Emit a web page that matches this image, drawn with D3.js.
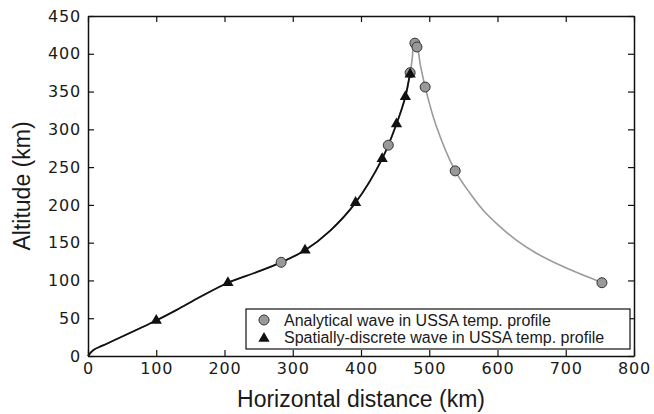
<!DOCTYPE html>
<html>
<head>
<meta charset="utf-8">
<script src="https://cdn.jsdelivr.net/npm/d3@7"></script>
<style>
    body { margin: 0; background: #fff; }
    svg { display: block; }
    .tick-label { font-family: "DejaVu Sans", sans-serif; font-size: 16px; letter-spacing: 0.8px; fill: #1a1a1a; }
    .axis-title { font-family: "Liberation Sans", Arial, sans-serif; font-size: 23px; fill: #1a1a1a; }
    .legend-text { font-family: "Liberation Sans", Arial, sans-serif; font-size: 16px; fill: #1a1a1a; }
</style>
</head>
<body>
<div id="chart"></div>
<script>
// Analytical wave markers (grey circles)
const analyticalX = [283, 440, 472, 479, 482, 494, 538, 753];
const analyticalY = [124, 279, 375, 414, 409, 356, 245, 97];

// Spatially-discrete wave markers (black triangles)
const discreteX = [100, 205, 318, 392, 431, 452, 465, 472];
const discreteY = [47, 97, 140, 203, 261, 307, 343, 373];

// Analytical ray path (grey line)
const analyticalPathX = [0, 8, 22, 100, 130, 164, 205, 247, 283, 318, 355, 392, 431, 452, 465, 472, 475, 478, 482, 487, 494, 510, 538, 560, 579, 604, 628, 657, 692, 726, 753];
const analyticalPathY = [0, 8, 14, 47, 61, 78, 97, 111, 124, 140, 166, 203, 261, 307, 343, 374, 393, 414, 410, 385, 356, 305, 245, 215, 193, 171, 153, 136, 120, 107, 97];

// Spatially-discrete ray path (black line)
const discretePathX = [0, 8, 22, 100, 130, 164, 205, 247, 283, 318, 355, 392, 431, 452, 465, 472, 474];
const discretePathY = [0, 8, 14, 47, 61, 78, 97, 111, 124, 140, 166, 203, 261, 307, 343, 374, 380];

const xTicks = [0, 100, 200, 300, 400, 500, 600, 700, 800];
const yTicks = [0, 50, 100, 150, 200, 250, 300, 350, 400, 450];

const legendLabels = [
    "Analytical wave in USSA temp. profile",
    "Spatially-discrete wave in USSA temp. profile"
];

const W = 654, H = 414;
const margin = { left: 88, top: 16, right: 20, bottom: 58 };
const width = W - margin.left - margin.right;
const height = H - margin.top - margin.bottom;

const svg = d3.select("#chart").append("svg")
    .attr("width", W)
    .attr("height", H);

const g = svg.append("g")
    .attr("transform", `translate(${margin.left},${margin.top})`);

const x = d3.scaleLinear().domain([0, 800]).range([0, width]);
const y = d3.scaleLinear().domain([0, 450]).range([height, 0]);

const zip = (xs, ys) => xs.map((v, i) => [v, ys[i]]);

// Lines
const line = d3.line()
    .x(d => x(d[0]))
    .y(d => y(d[1]))
    .curve(d3.curveCatmullRom.alpha(0.5));

g.append("path")
    .datum(zip(analyticalPathX, analyticalPathY))
    .attr("d", line)
    .attr("fill", "none")
    .attr("stroke", "#9a9a9a")
    .attr("stroke-width", 1.6);

g.append("path")
    .datum(zip(discretePathX, discretePathY))
    .attr("d", line)
    .attr("fill", "none")
    .attr("stroke", "#111")
    .attr("stroke-width", 1.8);

// Markers
g.selectAll(".analytical")
    .data(zip(analyticalX, analyticalY))
    .join("circle")
    .attr("class", "analytical")
    .attr("cx", d => x(d[0]))
    .attr("cy", d => y(d[1]))
    .attr("r", 5)
    .attr("fill", "#999")
    .attr("stroke", "#333")
    .attr("stroke-width", 1);

const tri = d3.symbol().type(d3.symbolTriangle).size(55);

g.selectAll(".discrete")
    .data(zip(discreteX, discreteY))
    .join("path")
    .attr("class", "discrete")
    .attr("d", tri)
    .attr("transform", d => `translate(${x(d[0])},${y(d[1])})`)
    .attr("fill", "#111");

// Axes, ticks pointing inward on all four sides
g.append("g")
    .attr("transform", `translate(0,${height})`)
    .call(d3.axisBottom(x).tickValues(xTicks).tickSizeInner(-6).tickSizeOuter(0).tickPadding(7));

g.append("g")
    .call(d3.axisLeft(y).tickValues(yTicks).tickSizeInner(-6).tickSizeOuter(0).tickPadding(7));

g.append("g")
    .call(d3.axisTop(x).tickValues(xTicks).tickSizeInner(-6).tickSizeOuter(0).tickFormat(""));

g.append("g")
    .attr("transform", `translate(${width},0)`)
    .call(d3.axisRight(y).tickValues(yTicks).tickSizeInner(-6).tickSizeOuter(0).tickFormat(""));

g.selectAll(".domain").attr("stroke", "#111").attr("stroke-width", 1.5);
g.selectAll(".tick line").attr("stroke", "#111").attr("stroke-width", 1.2);
g.selectAll(".tick text").attr("class", "tick-label");

// Axis titles
svg.append("text")
    .attr("class", "axis-title")
    .attr("x", margin.left + width / 2)
    .attr("y", 407)
    .attr("text-anchor", "middle")
    .text("Horizontal distance (km)");

svg.append("text")
    .attr("class", "axis-title")
    .attr("transform", `translate(30,${margin.top + height / 2}) rotate(-90)`)
    .attr("text-anchor", "middle")
    .text("Altitude (km)");

// Legend
const legend = svg.append("g").attr("transform", "translate(246,309)");

legend.append("rect")
    .attr("width", 384)
    .attr("height", 40)
    .attr("fill", "#fff")
    .attr("stroke", "#111")
    .attr("stroke-width", 1.2);

legend.append("circle")
    .attr("cx", 18)
    .attr("cy", 11)
    .attr("r", 5)
    .attr("fill", "#999")
    .attr("stroke", "#333");

legend.append("path")
    .attr("d", tri)
    .attr("transform", "translate(18,29.5)")
    .attr("fill", "#111");

legend.selectAll(".legend-text")
    .data(legendLabels)
    .join("text")
    .attr("class", "legend-text")
    .attr("x", 38)
    .attr("y", (d, i) => 16.5 + i * 17)
    .text(d => d);
</script>
</body>
</html>
